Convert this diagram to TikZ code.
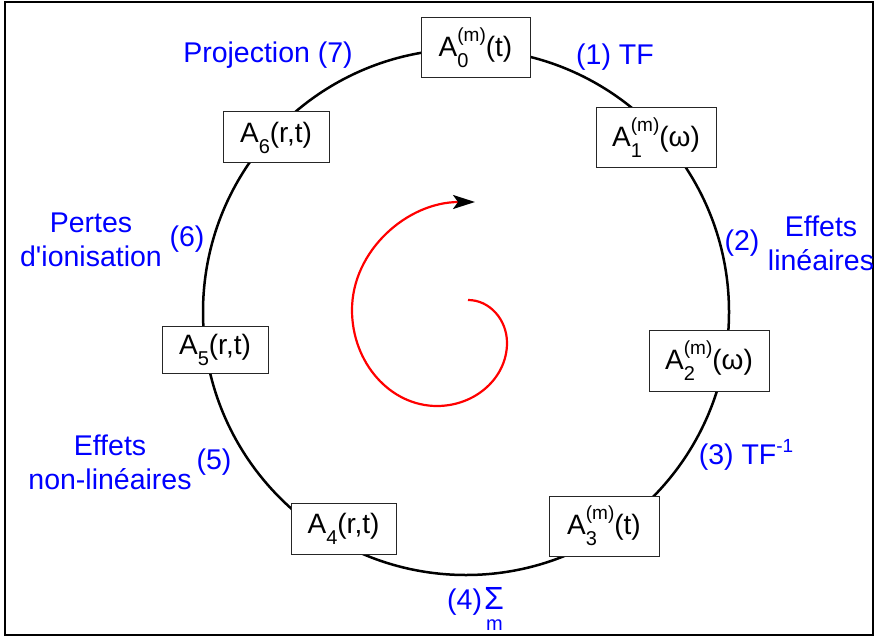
\documentclass[tikz,border=0pt]{standalone}
\usepackage{fontspec}
\setmainfont{Liberation Sans}[Ligatures=TeXOff]
\usetikzlibrary{arrows.meta}
\newcommand\SubSup[2]{\rlap{\raisebox{-11pt}{\fontsize{20}{20}\selectfont #1}}\raisebox{15pt}{\fontsize{19}{19}\selectfont #2}}
\newcommand\SubOnly[1]{\raisebox{-11pt}{\fontsize{20}{20}\selectfont #1}}
\begin{document}
\begin{tikzpicture}[x=1pt,y=-1pt,
  box/.style={draw=black!85, line width=1pt, fill=white, inner sep=0pt, font=\fontsize{28}{32}\selectfont},
  lbl/.style={text=blue, inner sep=0pt, font=\fontsize{28.5}{34}\selectfont, align=center},
  lblb/.style={text=blue, inner sep=0pt, font=\fontsize{28.5}{32}\selectfont},
  ring/.style={line width=2.5pt},
  spiral/.style={red, line width=2.2pt, -{Stealth[black,length=22pt,width=14pt,inset=5pt]}}]
\useasboundingbox (0,0) rectangle (877,639);
\draw[line width=1.5pt] (5,2) rectangle (873,635);
\draw[ring] (466,312) circle (263pt);

\node[box, minimum width=109pt, minimum height=60pt] (a0) at (475.5,48) {A\SubSup{0}{(m)}(t)};
\node[box, minimum width=120pt, minimum height=60pt] (a1) at (656,138) {A\SubSup{1}{(m)}(ω)};
\node[box, minimum width=120pt, minimum height=61pt] (a2) at (709,360.5) {A\SubSup{2}{(m)}(ω)};
\node[box, minimum width=110pt, minimum height=60pt] (a3) at (604,526) {A\SubSup{3}{(m)}(t)};
\node[box, minimum width=105pt, minimum height=51pt] (a4) at (343.5,528.5) {A\SubOnly{4}(r,t)};
\node[box, minimum width=106pt, minimum height=47pt] (a5) at (215,349.5) {A\SubOnly{5}(r,t)};
\node[box, minimum width=106pt, minimum height=51pt] (a6) at (276,137.5) {A\SubOnly{6}(r,t)};

\node[lbl] (t7) at (268,55) {Projection (7)};
\node[lbl] (t1) at (615,57) {(1) TF};
\node[lbl] (t2) at (742,243) {(2)};
\node[lbl] (t2b) at (821,243) {Effets\\linéaires};
\node[lbl] (t3) at (746,455) {(3) TF\raisebox{12pt}{\fontsize{19}{19}\selectfont -1}};
\node[lblb, anchor=base west] (t4) at (447,609) {(4)\hspace{2pt}{\fontsize{32}{32}\selectfont Σ}};
\node[lblb, font=\fontsize{20}{20}\selectfont, anchor=base] (t4m) at (494.5,630) {m};
\node[lbl] (t5) at (214,462) {(5)};
\node[lbl] (t5b) at (110,462) {Effets\\non-linéaires};
\node[lbl] (t6) at (187,239) {(6)};
\node[lbl] (t6b) at (91,240) {Pertes\\d'ionisation};

\draw[spiral] (468,300) .. controls (489.5,300) and (507,319.4) .. (507,343)
  .. controls (507,377.7) and (475.5,406) .. (437,406)
  .. controls (390.2,406) and (352,362.8) .. (352,310)
  .. controls (352,250.6) and (407.4,202) .. (475,202);
\end{tikzpicture}
\end{document}
